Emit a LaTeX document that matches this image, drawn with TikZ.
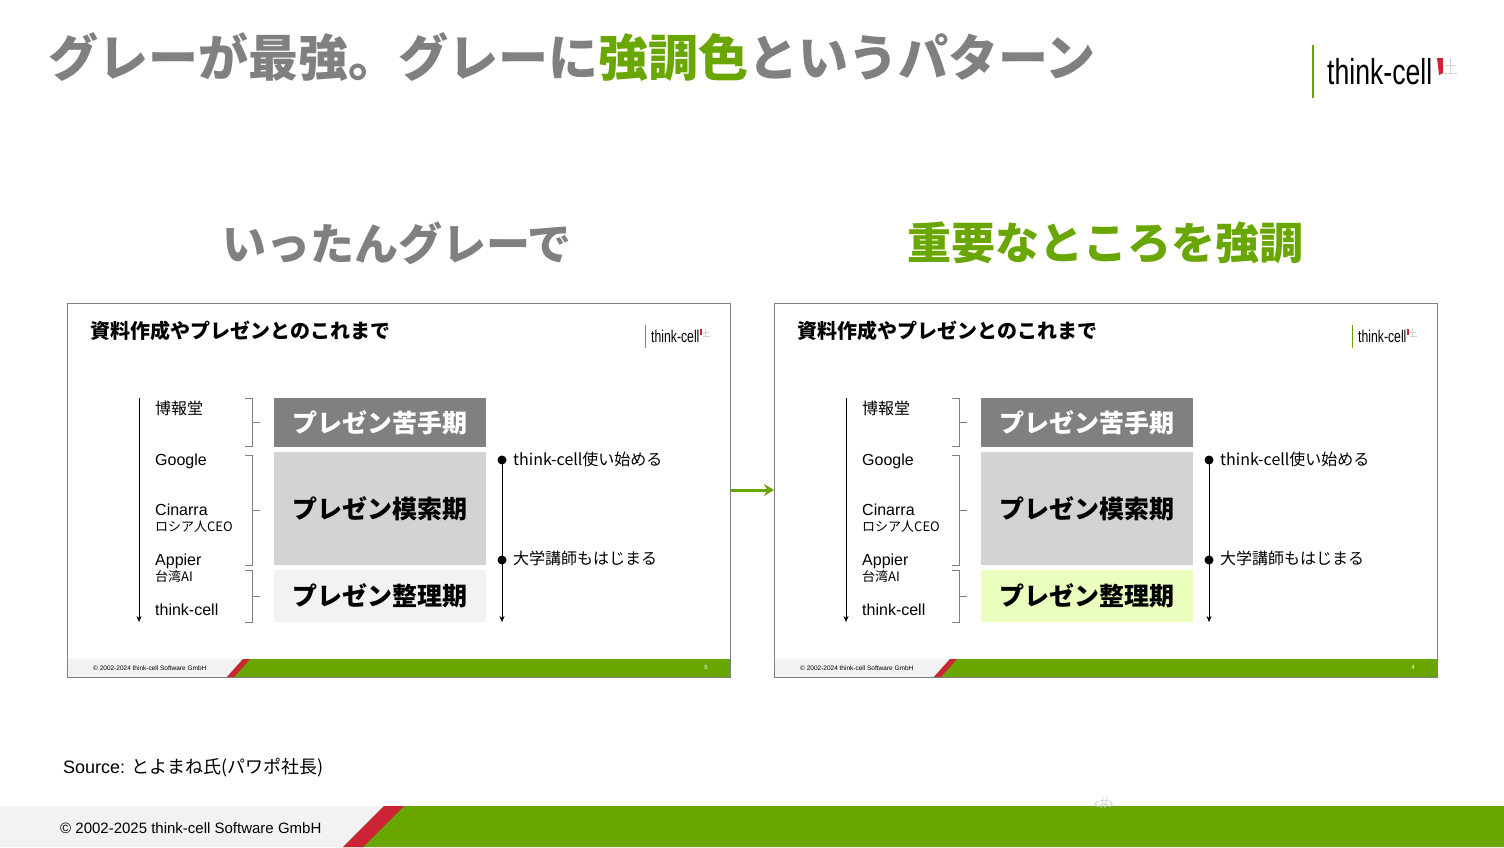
\documentclass[tikz,border=0pt]{standalone}
\usepackage{fontspec}
\setmainfont{Liberation Sans}
\newfontfamily\jp{Noto Sans CJK JP}
\usetikzlibrary{positioning,arrows.meta}
\definecolor{tcgreen}{RGB}{106,166,0}
\definecolor{tcred}{RGB}{204,36,52}
\definecolor{tcgray}{RGB}{128,128,128}
\definecolor{tclight}{RGB}{211,211,211}
\definecolor{tcpale}{RGB}{242,242,242}
\definecolor{tclime}{RGB}{234,255,190}
\newcommand{\fs}[1]{\fontsize{#1}{#1}\selectfont}
\tikzset{
  lbl/.style={anchor=west,inner sep=0pt,font=\fs{16}},
  sublbl/.style={anchor=west,inner sep=0pt,font=\jp\fs{13}},
  phase/.style={minimum width=212pt,inner sep=0pt,font=\jp\bfseries\fs{25}},
  brk/.style={draw=tcgray,thin},
  dotlbl/.style={anchor=west,inner sep=0pt,font=\jp\fs{16}},
  tl/.style={-{Stealth[length=6pt,width=5pt]}},
}
% one small slide, #1 = fill of last phase, #2 = page number
\newcommand{\slidebody}[2]{%
  \draw[tcgray,fill=white] (0,0) rectangle (663,374);
  \node[anchor=west,inner sep=0pt,font=\jp\bfseries\fs{20}] (st) at (23,28) {資料作成やプレゼンとのこれまで};
  % small logo
  \draw[tcgreen,thick] (578,22) -- (578,45);
  \node[anchor=west,inner sep=0pt,font=\fs{17},xscale=.72] (sl) at (584,33) {think-cell};
  \fill[tcred] (633,26) rectangle (635,32);
  \draw[tclight,thin] (636,29) -- (642,29) (638,26) -- (638,33) (636,33) -- (643,33);
  % time axis
  \draw[tl] (72,95) -- (72,319);
  \node[lbl,font=\jp\fs{16}] (hk) at (88,105) {博報堂};
  \node[lbl] (gg) at (88,158) {Google};
  \node[lbl] (ci) at (88,207) {Cinarra};
  \node[sublbl] (ru) at (88,224) {ロシア人CEO};
  \node[lbl] (ap) at (88,258) {Appier};
  \node[sublbl] (tw) at (88,274) {台湾AI};
  \node[lbl] (tc) at (88,307) {think-cell};
  % brackets
  \draw[brk] (178,95) -- (185,95) -- (185,143) -- (178,143) (185,119) -- (193,119);
  \draw[brk] (178,152) -- (185,152) -- (185,262) -- (178,262) (185,207) -- (193,207);
  \draw[brk] (178,267) -- (185,267) -- (185,319) -- (178,319) (185,293) -- (193,293);
  % phases
  \node[phase,fill=tcgray,text=white,minimum height=49pt] (p1) at (313,119.5) {プレゼン苦手期};
  \node[phase,fill=tclight,minimum height=113pt] (p2) at (313,205.5) {プレゼン模索期};
  \node[phase,fill=#1,minimum height=52pt] (p3) at (313,293) {プレゼン整理期};
  % events
  \fill (435,157) circle (4.5);
  \fill (435,257) circle (4.5);
  \coordinate (ev) at (435,319);
  \draw[tl] (435,157) -- (ev);
  \node[dotlbl] (e1) at (446,156) {think-cell使い始める};
  \node[dotlbl] (e2) at (446,255) {大学講師もはじまる};
  % footer
  \fill[tcpale] (0,356) -- (176,356) -- (160,374) -- (0,374) -- cycle;
  \fill[tcgreen] (176,356) -- (663,356) -- (663,374) -- (160,374) -- cycle;
  \fill[tcred] (160,374) -- (176,356) -- (183,356) -- (167,374) -- cycle;
  \node[anchor=west,inner sep=0pt,font=\fs{6.5}] (cp) at (26,365) {© 2002-2024 think-cell Software GmbH};
  \node[text=white,inner sep=0pt,font=\fs{6}] (pn) at (639,364) {#2};
  \draw[tcgray] (0,0) rectangle (663,374);
}
\begin{document}
\begin{tikzpicture}[x=1pt,y=-1pt]
\useasboundingbox (0,0) rectangle (1504,847);
\fill[white] (0,0) rectangle (1504,847);
% title
\node[anchor=west,inner sep=0pt,font=\jp\bfseries\fs{50},text=tcgray] (title) at (48,57)
  {グレーが最強。グレーに\textcolor{tcgreen}{強調色}というパターン};
% logo
\draw[tcgreen,line width=2pt] (1313,45) -- (1313,98);
\node[anchor=west,inner sep=0pt,font=\fs{36},xscale=.74] (logo) at (1327,72) {think-cell};
\fill[tcred] (1437,58) -- (1443,58) -- (1443,73) -- (1439,75) -- cycle;
\draw[tclight] (1445,65) -- (1456,65) (1450,58) -- (1450,73) (1444,73) -- (1457,73);
% headings
\node[font=\jp\bfseries\fs{44},text=tcgray] (hl) at (397,243) {いったんグレーで};
\node[font=\jp\bfseries\fs{44},text=tcgreen] (hr) at (1105,243) {重要なところを強調};
% slides
\begin{scope}[shift={(67,303)}]
  \slidebody{tcpale}{5}
\end{scope}
\begin{scope}[shift={(774,303)}]
  \slidebody{tclime}{4}
\end{scope}
\coordinate (al) at (731,490);
\coordinate (ar) at (774,490);
\draw[tcgreen,line width=3pt,-{Stealth[length=10pt,width=12pt]}] (al) -- (ar);
% source
\node[anchor=west,inner sep=0pt,font=\fs{18}] (src) at (63,768) {Source: {\jp とよまね氏(パワポ社長)}};
% footer
\fill[tcpale] (0,806) -- (384,806) -- (343,847) -- (0,847) -- cycle;
\fill[tcgreen] (384,806) -- (1504,806) -- (1504,847) -- (343,847) -- cycle;
\fill[tcred] (343,847) -- (384,806) -- (404,806) -- (363,847) -- cycle;
\node[anchor=west,inner sep=0pt,font=\fs{15}] (fc) at (60,828) {© 2002-2025 think-cell Software GmbH};
\node[inner sep=0pt,font=\fs{16},text=tclight] (num) at (1104,803) {‹\#›};
\end{tikzpicture}
\end{document}
